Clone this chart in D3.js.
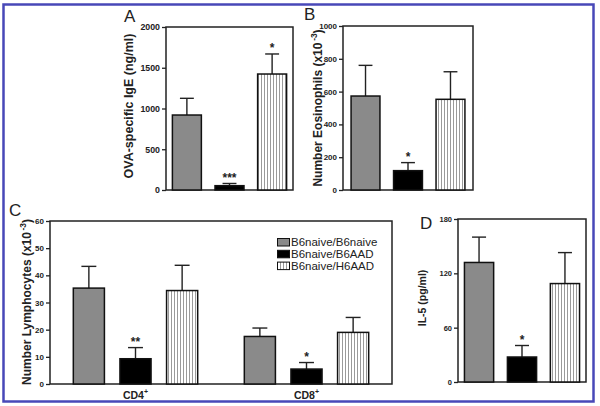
<!DOCTYPE html>
<html><head><meta charset="utf-8">
<script src="https://cdn.jsdelivr.net/npm/d3@7"></script>
<style>
html,body{margin:0;padding:0;background:#fff;}
svg{display:block;font-family:"Liberation Sans",Arial,sans-serif;}
.tick text{font-weight:bold;fill:#222;}
</style></head>
<body>
<svg id="chart" width="600" height="406"></svg>
<script>
// ---- data ----
const groups = ["B6naive/B6naive", "B6naive/B6AAD", "B6naive/H6AAD"];
const igeMean = [920, 53, 1423];
const igeSem  = [205, 27, 246];
const igeSig  = ["", "***", "*"];
const eosMean = [573, 118, 553];
const eosSem  = [187, 49, 168];
const eosSig  = ["", "*", ""];
const cellTypes = ["CD4", "CD8"];
const cd4Mean = [35.3, 9.3, 34.4];
const cd4Sem  = [8.0, 4.1, 9.3];
const cd4Sig  = ["", "**", ""];
const cd8Mean = [17.5, 5.5, 19.0];
const cd8Sem  = [3.1, 2.4, 5.5];
const cd8Sig  = ["", "*", ""];
const il5Mean = [132, 27.6, 108.7];
const il5Sem  = [28, 12.7, 34.2];
const il5Sig  = ["", "*", ""];
const igeTicks = [0, 500, 1000, 1500, 2000];
const eosTicks = [0, 200, 400, 600, 800, 1000];
const lymTicks = [0, 10, 20, 30, 40, 50, 60];
const il5Ticks = [0, 60, 120, 180];

// ---- drawing ----
const svg = d3.select("#chart");
const defs = svg.append("defs");
const pat = defs.append("pattern").attr("id", "hatch").attr("patternUnits", "userSpaceOnUse")
  .attr("width", 3).attr("height", 10);
pat.append("rect").attr("width", 3).attr("height", 10).attr("fill", "#fff");
pat.append("line").attr("x1", 0.5).attr("x2", 0.5).attr("y1", 0).attr("y2", 10)
  .attr("stroke", "#9a9a9a").attr("stroke-width", 1);
const fills = ["#8a8a8a", "#000", "url(#hatch)"];

// outer border
svg.append("rect").attr("x", 3.5).attr("y", 4.5).attr("width", 590).attr("height", 397)
  .attr("fill", "none").attr("stroke", "#4848b8").attr("stroke-width", 2.5);

function frame(L, max, ticks, tickFont) {
  const y = d3.scaleLinear().domain([0, max]).range([L.y1, L.y0]);
  const g = svg.append("g");
  const ax = g.append("g").attr("transform", `translate(${L.x0},0)`)
    .call(d3.axisLeft(y).tickValues(ticks).tickSize(4).tickPadding(2).tickFormat(d3.format("d")));
  ax.selectAll("text").attr("font-size", tickFont).attr("font-family", "Liberation Sans, Arial, sans-serif");
  ax.select(".domain").remove();
  ax.selectAll("line").attr("stroke", "#222").attr("stroke-width", 1.3);
  g.append("rect").attr("x", L.x0).attr("y", L.y0).attr("width", L.x1 - L.x0).attr("height", L.y1 - L.y0)
    .attr("fill", "none").attr("stroke", "#222").attr("stroke-width", 1.5);
  return y;
}

function bars(y, xs, mean, sem, sig) {
  const g = svg.append("g");
  const bw = xs.bandwidth();
  groups.forEach((grp, i) => {
    const x = xs(grp), cx = x + bw / 2;
    // error bar
    g.append("line").attr("x1", cx).attr("x2", cx).attr("y1", y(mean[i])).attr("y2", y(mean[i] + sem[i]))
      .attr("stroke", "#222").attr("stroke-width", 1.4);
    g.append("line").attr("x1", cx - bw * 0.24).attr("x2", cx + bw * 0.24)
      .attr("y1", y(mean[i] + sem[i])).attr("y2", y(mean[i] + sem[i]))
      .attr("stroke", "#222").attr("stroke-width", 1.4);
    g.append("rect").attr("x", x).attr("y", y(mean[i])).attr("width", bw)
      .attr("height", y(0) - y(mean[i])).attr("fill", fills[i])
      .attr("stroke", "#111").attr("stroke-width", 1.5);
    if (sig[i]) {
      g.append("text").attr("x", cx).attr("y", y(mean[i] + sem[i]) - 1.5)
        .attr("text-anchor", "middle").attr("font-size", 12).attr("font-weight", "bold")
        .attr("fill", "#222").text(sig[i]);
    }
  });
}

function ylabel(x, cy, size, main, sup) {
  const t = svg.append("text").attr("transform", `translate(${x},${cy}) rotate(-90)`)
    .attr("text-anchor", "middle").attr("font-size", size).attr("font-weight", "bold").attr("fill", "#222");
  t.append("tspan").text(main);
  if (sup) {
    t.append("tspan").attr("font-size", size * 0.7).attr("dy", -size * 0.45).text("\u2009" + sup);
    t.append("tspan").attr("dy", size * 0.45).text(")");
  }
}

function letter(x, y, s) {
  svg.append("text").attr("x", x).attr("y", y).attr("font-size", 17).attr("fill", "#222").text(s);
}

// Panel A
const LA = {x0: 166, x1: 293, y0: 27, y1: 190};
const yA = frame(LA, 2000, igeTicks, 8.8);
const xA = d3.scaleBand().domain(groups).range([LA.x0, LA.x1]).paddingInner(0.32).paddingOuter(0.15);
bars(yA, xA, igeMean, igeSem, igeSig);
ylabel(133, 106, 12.5, "OVA-specific IgE (ng/ml)");
letter(124, 22, "A");

// Panel B
const LB = {x0: 343, x1: 473, y0: 26, y1: 190};
const yB = frame(LB, 1000, eosTicks, 8);
const xB = d3.scaleBand().domain(groups).range([LB.x0, LB.x1]).paddingInner(0.32).paddingOuter(0.19);
bars(yB, xB, eosMean, eosSem, eosSig);
ylabel(322, 108, 12, "Number Eosinophils (x10", "-3");
letter(304, 20, "B");

// Panel C
const LC = {x0: 50, x1: 392, y0: 221, y1: 384};
const yC = frame(LC, 60, lymTicks, 8);
const xC = d3.scaleBand().domain(cellTypes).range([LC.x0, LC.x1]).padding(0);
[[cd4Mean, cd4Sem, cd4Sig], [cd8Mean, cd8Sem, cd8Sig]].forEach(([m, s, sg], k) => {
  const x0 = xC(cellTypes[k]);
  const xi = d3.scaleBand().domain(groups).range([x0, x0 + xC.bandwidth()]).paddingInner(0.333).paddingOuter(0.5);
  bars(yC, xi, m, s, sg);
  const t = svg.append("text").attr("x", x0 + xC.bandwidth() / 2).attr("y", 399)
    .attr("text-anchor", "middle").attr("font-size", 10.5).attr("font-weight", "bold").attr("fill", "#222");
  t.append("tspan").text(cellTypes[k]);
  t.append("tspan").attr("font-size", 7).attr("dy", -5).text("+");
});
ylabel(31, 302, 12, "Number Lymphocytes (x10", "-3");
letter(9, 216, "C");
// legend
const leg = svg.append("g").attr("transform", "translate(277,238)");
groups.forEach((grp, i) => {
  const r = leg.append("g").attr("transform", `translate(0,${i * 11.8})`);
  r.append("rect").attr("x", 0.5).attr("y", 0.5).attr("width", 12).attr("height", 7.5)
    .attr("fill", fills[i]).attr("stroke", "#111").attr("stroke-width", 1);
  r.append("text").attr("x", 14).attr("y", 8).attr("font-size", 11.5).attr("fill", "#222").text(grp);
});

// Panel D
const LD = {x0: 458, x1: 586, y0: 219, y1: 382};
const yD = frame(LD, 180, il5Ticks, 7.5);
const xD = d3.scaleBand().domain(groups).range([LD.x0, LD.x1]).paddingInner(0.32).paddingOuter(0.15);
bars(yD, xD, il5Mean, il5Sem, il5Sig);
ylabel(426, 298, 10.5, "IL-5 (pg/ml)");
letter(420, 229, "D");
</script>
</body></html>
